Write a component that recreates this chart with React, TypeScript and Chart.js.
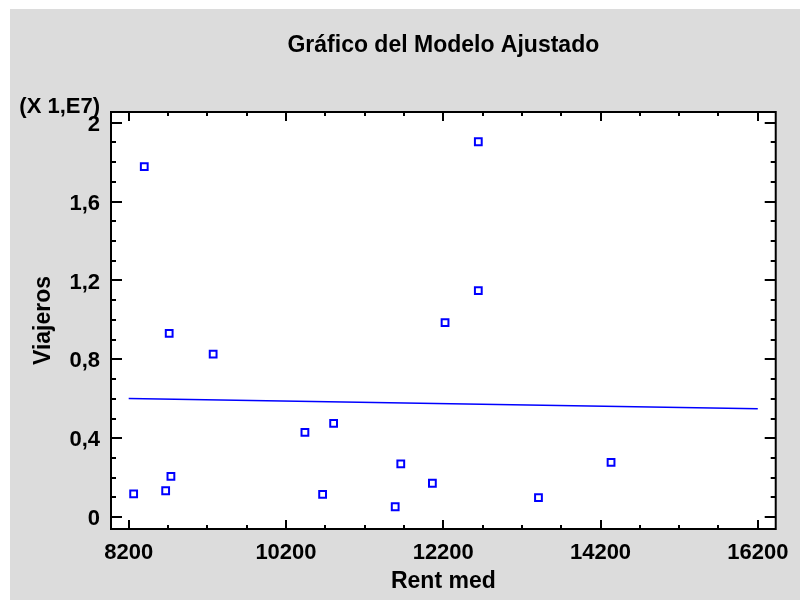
import React, { useEffect, useRef } from "react";
import { Chart, registerables } from "chart.js";

Chart.register(...registerables);

// ---- data ----
const rentMed = [8398, 8715, 9274, 12646, 12646, 12223, 10806, 10441, 11660, 14334, 12062, 10666, 13411, 11589, 8263, 8670, 8737];
const viajeros = [17770000, 9320000, 8260000, 19030000, 11480000, 9860000, 4760000, 4300000, 2700000, 2780000, 1720000, 1160000, 990000, 530000, 1180000, 1340000, 2070000];
const fitX = [8200, 16200];
const fitY = [6016000, 5494000];
const xTickValues = [8200, 10200, 12200, 14200, 16200];
const yTickValues = [0, 4000000, 8000000, 12000000, 16000000, 20000000];
const xMinorStep = 500;
const yMinorStep = 1000000;
const yFactor = 10000000;

const FONT = "'Liberation Sans', Arial, Helvetica, sans-serif";
const BG = "#dcdcdc";
const BLUE = "#0000ff";

function fmtY(v: number): string {
  const n = Math.round((v / yFactor) * 10) / 10;
  return String(n).replace(".", ",");
}

const framePlugin = {
  id: "framePlugin",
  beforeDraw(chart: any) {
    const { ctx, chartArea } = chart;
    ctx.save();
    ctx.fillStyle = BG;
    ctx.fillRect(0, 0, chart.width, chart.height);
    ctx.fillStyle = "#ffffff";
    ctx.fillRect(chartArea.left, chartArea.top, chartArea.right - chartArea.left, chartArea.bottom - chartArea.top);
    ctx.restore();
  },
  afterDraw(chart: any) {
    const { ctx, chartArea } = chart;
    const xs = chart.scales.x;
    const ys = chart.scales.y;
    const { left, right, top, bottom } = chartArea;
    ctx.save();
    ctx.strokeStyle = "#000";
    ctx.lineWidth = 2;
    const x0 = xTickValues[0];
    for (let v = x0 - Math.floor((x0 - xs.min) / xMinorStep) * xMinorStep; v <= xs.max; v += xMinorStep) {
      const major = xTickValues.includes(v);
      const len = major ? 9 : 4;
      const px = Math.round(xs.getPixelForValue(v));
      ctx.beginPath();
      ctx.moveTo(px, bottom);
      ctx.lineTo(px, bottom - len);
      ctx.moveTo(px, top);
      ctx.lineTo(px, top + len);
      ctx.stroke();
    }
    const y0 = yTickValues[0];
    for (let v = y0 - Math.floor((y0 - ys.min) / yMinorStep) * yMinorStep; v <= ys.max; v += yMinorStep) {
      const major = yTickValues.includes(v);
      const len = major ? 11 : 5;
      const py = Math.round(ys.getPixelForValue(v));
      ctx.beginPath();
      ctx.moveTo(left, py);
      ctx.lineTo(left + len, py);
      ctx.moveTo(right, py);
      ctx.lineTo(right - len, py);
      ctx.stroke();
    }
    ctx.strokeRect(left, top, right - left, bottom - top);

    ctx.fillStyle = "#000";
    ctx.font = `bold 23px ${FONT}`;
    ctx.textAlign = "center";
    ctx.textBaseline = "alphabetic";
    ctx.fillText("Gráfico del Modelo Ajustado", (left + right) / 2, 43);
    ctx.font = `bold 22px ${FONT}`;
    ctx.textAlign = "right";
    ctx.fillText("(X 1,E7)", left - 11, top + 1);
    ctx.restore();
  },
};

export default function App() {
  const ref = useRef<HTMLCanvasElement | null>(null);
  useEffect(() => {
    if (!ref.current) return;
    const chart = new Chart(ref.current, {
      type: "scatter",
      data: {
        datasets: [
          {
            type: "line",
            label: "fit",
            data: fitX.map((x, i) => ({ x, y: fitY[i] })),
            borderColor: BLUE,
            borderWidth: 1.5,
            pointRadius: 0,
            fill: false,
            showLine: true,
          } as any,
          {
            type: "scatter",
            label: "obs",
            data: rentMed.map((x, i) => ({ x, y: viajeros[i] })),
            pointStyle: "rect",
            pointRadius: 4.8,
            borderWidth: 2,
            borderColor: BLUE,
            backgroundColor: "rgba(0,0,0,0)",
          } as any,
        ],
      },
      options: {
        animation: false,
        responsive: false,
        devicePixelRatio: 1,
        layout: { padding: { left: 0, top: 103, right: 23, bottom: 0 } },
        plugins: { legend: { display: false }, tooltip: { enabled: false }, title: { display: false } },
        scales: {
          x: {
            type: "linear",
            min: 7975,
            max: 16428,
            grid: { display: false, drawTicks: false },
            border: { display: false },
            afterBuildTicks: (s: any) => {
              s.ticks = xTickValues.map((v) => ({ value: v }));
            },
            afterFit: (s: any) => {
              s.height = 71;
            },
            ticks: {
              padding: 11,
              color: "#000",
              autoSkip: false,
              maxRotation: 0,
              font: { family: FONT, size: 22, weight: "bold" },
              callback: (v: any) => String(v),
            },
            title: {
              display: true,
              text: "Rent med",
              color: "#000",
              font: { family: FONT, size: 23, weight: "bold" },
              padding: { top: 0, bottom: 5 },
            },
          },
          y: {
            type: "linear",
            min: -598000,
            max: 20537000,
            grid: { display: false, drawTicks: false },
            border: { display: false },
            afterBuildTicks: (s: any) => {
              s.ticks = yTickValues.map((v) => ({ value: v }));
            },
            afterFit: (s: any) => {
              s.width = 101;
            },
            ticks: {
              padding: 11,
              labelOffset: 2,
              color: "#000",
              autoSkip: false,
              font: { family: FONT, size: 22, weight: "bold" },
              callback: (v: any) => fmtY(Number(v)),
            },
            title: {
              display: true,
              text: "Viajeros",
              color: "#000",
              font: { family: FONT, size: 23, weight: "bold" },
              padding: { top: 20, bottom: 0 },
            },
          },
        },
      } as any,
      plugins: [framePlugin],
    });
    return () => chart.destroy();
  }, []);
  return (
    <div style={{ position: "absolute", left: 10, top: 9, width: 790, height: 591 }}>
      <canvas ref={ref} width={790} height={591} style={{ display: "block", width: 790, height: 591 }} />
    </div>
  );
}
